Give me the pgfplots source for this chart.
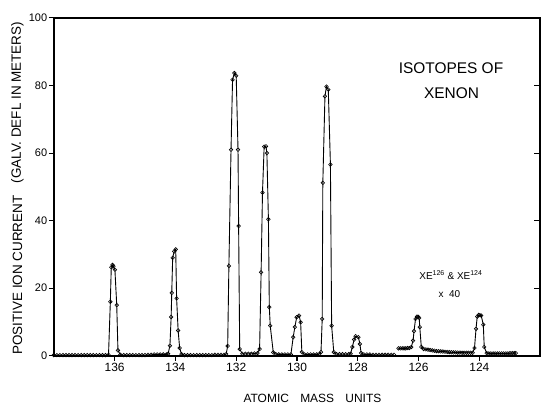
\documentclass[border=0pt]{standalone}
\usepackage{pgfplots}
\pgfplotsset{compat=1.18}
\usepackage{fontspec}
\setmainfont{Liberation Sans}
\begin{document}
\begin{tikzpicture}
\begin{axis}[name=ax, at={(0,0)}, anchor=south west,
 width=488pt, height=339pt, scale only axis,
 xmin=122, xmax=138, x dir=reverse, ymin=0, ymax=100,
 xtick={124,126,...,136}, ytick={0,20,...,100},
 xtick pos=bottom, ytick pos=left, tick align=outside,
 major tick length=5pt,
 every tick/.style={black, line width=1.1pt},
 axis line style={line width=1.5pt},
 /pgf/number format/assume math mode=true,
 xticklabel style={font=\fontsize{12}{14}\selectfont, inner sep=2pt},
 yticklabel style={font=\fontsize{11}{13}\selectfont, inner sep=1.5pt},
 clip=false,
]
\addplot[black, line width=0.9pt, mark=o, mark size=1.8pt, mark options={fill=white, line width=0.6pt}] coordinates {
(138.0,0.2)(137.9,0.2)(137.8,0.2)(137.7,0.2)(137.6,0.2)(137.5,0.2)(137.4,0.2)(137.3,0.2)(137.2,0.2)(137.1,0.2)(137.0,0.2)(136.9,0.2)(136.8,0.2)(136.7,0.2)(136.6,0.2)(136.5,0.2)(136.4,0.2)(136.3,0.2)(136.2,0.3)
(136.14,16)(136.11,26.2)(136.07,26.9)(136.04,26.5)(135.99,25.5)(135.93,15)(135.89,1.6)(135.81,0.3)
(135.7,0.2)(135.6,0.2)(135.5,0.2)(135.4,0.2)(135.3,0.2)(135.2,0.2)(135.1,0.2)(135.0,0.2)(134.9,0.3)(134.8,0.3)(134.7,0.4)(134.6,0.4)(134.5,0.4)(134.4,0.4)(134.3,0.4)(134.24,0.6)
(134.18,3)(134.14,11.5)(134.12,18.6)(134.09,29)(134.04,30.9)(133.99,31.5)(133.96,17)(133.91,7.5)(133.86,2.3)(133.80,0.5)
(133.7,0.2)(133.6,0.2)(133.5,0.2)(133.4,0.2)(133.3,0.2)(133.2,0.2)(133.1,0.2)(133.0,0.2)(132.9,0.2)(132.8,0.2)(132.7,0.3)(132.6,0.3)(132.5,0.3)(132.4,0.3)(132.33,0.5)
(132.28,2.9)(132.24,26.6)(132.17,61)(132.12,81.7)(132.06,83.7)(132.00,82.9)(131.94,61)(131.92,38.4)(131.885,2)
(131.8,0.6)(131.7,0.6)(131.6,0.6)(131.5,0.6)(131.4,0.7)(131.3,0.8)
(131.23,2)(131.18,24.7)(131.135,48.3)(131.08,61.9)(131.02,62)(130.99,60)(130.94,40.4)(130.91,14.4)(130.88,8.9)(130.78,1)
(130.7,0.5)(130.6,0.4)(130.5,0.4)(130.4,0.4)(130.3,0.4)(130.2,0.4)
(130.125,5.5)(130.07,8.5)(130.01,11.4)(129.93,11.9)(129.88,9.9)(129.84,1.1)
(129.75,0.4)(129.65,0.4)(129.55,0.4)(129.45,0.4)(129.35,0.4)(129.27,0.5)
(129.21,1.1)(129.17,10.9)(129.15,51.2)(129.08,76.8)(129.03,79.7)(128.97,78.8)(128.90,56.6)(128.86,8.9)(128.79,1.1)
(128.7,0.5)(128.6,0.5)(128.5,0.5)(128.4,0.5)(128.3,0.5)(128.235,0.6)
(128.18,2.6)(128.12,4.8)(128.07,5.8)(127.98,5.5)(127.93,3.5)(127.89,0.8)
(127.8,0.4)(127.7,0.4)(127.6,0.4)(127.5,0.3)(127.4,0.3)(127.3,0.3)(127.2,0.3)(127.1,0.3)(127.0,0.3)(126.9,0.3)(126.81,0.3)
};
\addplot[black, line width=0.9pt, mark=o, mark size=1.8pt, mark options={fill=white, line width=0.6pt}] coordinates {
(126.66,2.2)(126.60,2.2)(126.54,2.2)(126.48,2.2)(126.42,2.2)(126.36,2.3)(126.30,2.3)(126.24,2.6)
(126.18,4.5)(126.15,7.3)(126.10,10.9)(126.05,11.6)(126.01,11.5)(125.98,11.2)(125.96,8.5)(125.91,2.6)
(125.83,2.0)(125.76,1.9)(125.69,1.8)(125.62,1.7)(125.55,1.6)(125.48,1.5)(125.41,1.4)(125.34,1.35)(125.27,1.3)(125.20,1.25)(125.13,1.2)(125.06,1.15)(124.99,1.1)(124.92,1.05)(124.85,1.0)(124.78,1.0)(124.71,0.95)(124.64,0.95)(124.57,0.9)(124.50,0.9)(124.43,0.9)(124.36,0.9)(124.29,0.9)(124.22,0.9)
(124.16,2.3)(124.11,8)(124.07,11.6)(124.02,12.1)(123.98,12.0)(123.94,11.9)(123.87,9.2)(123.84,2.6)
(123.76,0.8)(123.69,0.7)(123.62,0.7)(123.55,0.7)(123.48,0.7)(123.41,0.7)(123.34,0.7)(123.27,0.7)(123.20,0.7)(123.13,0.7)(123.06,0.7)(122.99,0.8)(122.92,0.8)(122.85,0.8)(122.80,0.8)
};
\end{axis}
\begin{axis}[at={(ax.south west)}, anchor=south west,
 width=488pt, height=339pt, scale only axis,
 xmin=122, xmax=138, ymin=0, ymax=100,
 axis x line=none, axis y line*=right,
 ytick={20,40,60,80}, yticklabels={},
 tick align=inside, major tick length=6pt,
 every tick/.style={black, line width=1.1pt},
 axis line style={line width=1.5pt},
]
\end{axis}
\node[font=\fontsize{15.5}{18}\selectfont] at ([shift={(398.5pt,288.5pt)}]ax.south west) {ISOTOPES OF};
\node[font=\fontsize{15.5}{18}\selectfont] at ([shift={(399pt,263.7pt)}]ax.south west) {XENON};
\node[font=\fontsize{10}{12}\selectfont] at ([shift={(398.5pt,81pt)}]ax.south west) {XE\textsuperscript{126} \& XE\textsuperscript{124}};
\node[font=\fontsize{10}{12}\selectfont] at ([shift={(397pt,62pt)}]ax.south west) {x\ \ 40};
\node[font=\fontsize{13.5}{16}\selectfont, rotate=90] at ([shift={(-36.5pt,81pt)}]ax.south west) {POSITIVE ION CURRENT};
\node[font=\fontsize{13.5}{16}\selectfont, rotate=90] at ([shift={(-36.5pt,254pt)}]ax.south west) {(GALV. DEFL IN METERS)};
\node[font=\fontsize{12}{14}\selectfont] at ([shift={(259.5pt,-43pt)}]ax.south west) {ATOMIC\hspace{8pt} MASS\hspace{8pt} UNITS};
\path ([shift={(-54pt,-50pt)}]ax.south west) rectangle ++(547pt,407pt);
\end{tikzpicture}
\end{document}
